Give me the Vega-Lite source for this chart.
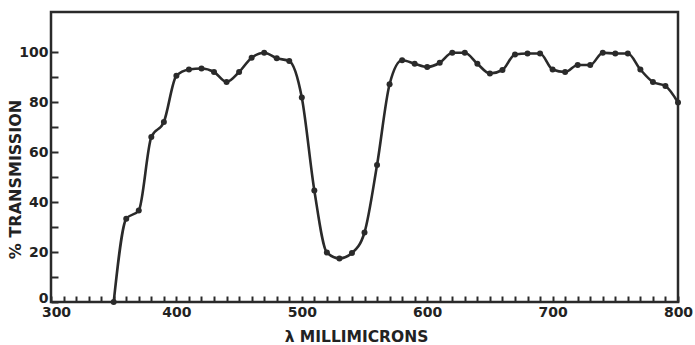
{
  "$schema": "https://vega.github.io/schema/vega-lite/v6.json",
  "width": 627,
  "height": 290,
  "autosize": {"type": "none"},
  "padding": {"left": 51, "top": 12, "right": 17, "bottom": 43},
  "background": "white",
  "config": {
    "view": {"stroke": "#2a2a2a", "strokeWidth": 2.5},
    "axis": {
      "domain": false,
      "grid": false,
      "labelFont": "DejaVu Sans",
      "labelFontWeight": "bold",
      "labelFontSize": 14,
      "labelColor": "#222",
      "tickColor": "#2a2a2a",
      "tickWidth": 2,
      "titleFont": "DejaVu Sans",
      "titleFontWeight": "bold",
      "titleColor": "#222"
    }
  },
  "data": {
    "values": [
      {"wl": 350, "t": 0},
      {"wl": 360, "t": 33.3},
      {"wl": 370, "t": 36.6},
      {"wl": 380, "t": 66},
      {"wl": 390, "t": 72},
      {"wl": 400, "t": 90.5},
      {"wl": 410, "t": 93},
      {"wl": 420, "t": 93.4},
      {"wl": 430, "t": 92},
      {"wl": 440, "t": 88},
      {"wl": 450, "t": 92},
      {"wl": 460, "t": 97.7},
      {"wl": 470, "t": 99.7},
      {"wl": 480, "t": 97.5},
      {"wl": 490, "t": 96.4},
      {"wl": 500, "t": 81.8},
      {"wl": 510, "t": 44.6},
      {"wl": 520, "t": 19.8},
      {"wl": 530, "t": 17.4},
      {"wl": 540, "t": 19.6},
      {"wl": 550, "t": 27.8},
      {"wl": 560, "t": 54.8},
      {"wl": 570, "t": 87.1},
      {"wl": 580, "t": 96.7},
      {"wl": 590, "t": 95.3},
      {"wl": 600, "t": 94},
      {"wl": 610, "t": 95.7},
      {"wl": 620, "t": 99.7},
      {"wl": 630, "t": 99.7},
      {"wl": 640, "t": 95.3},
      {"wl": 650, "t": 91.4},
      {"wl": 660, "t": 92.8},
      {"wl": 670, "t": 99},
      {"wl": 680, "t": 99.4},
      {"wl": 690, "t": 99.4},
      {"wl": 700, "t": 93},
      {"wl": 710, "t": 92},
      {"wl": 720, "t": 94.8},
      {"wl": 730, "t": 94.8},
      {"wl": 740, "t": 99.7},
      {"wl": 750, "t": 99.4},
      {"wl": 760, "t": 99.4},
      {"wl": 770, "t": 93},
      {"wl": 780, "t": 88},
      {"wl": 790, "t": 86.4},
      {"wl": 800, "t": 79.8}
    ]
  },
  "encoding": {
    "x": {
      "field": "wl",
      "type": "quantitative",
      "scale": {"domain": [300, 800], "nice": false, "zero": false},
      "axis": {
        "values": [300,310,320,330,340,350,360,370,380,390,400,410,420,430,440,450,460,470,480,490,500,510,520,530,540,550,560,570,580,590,600,610,620,630,640,650,660,670,680,690,700,710,720,730,740,750,760,770,780,790,800],
        "labelExpr": "datum.value % 100 === 0 ? datum.label : ''",
        "tickSize": -6,
        "labelPadding": 9,
        "labelFlush": false,
        "labelOffset": {"condition": {"test": "datum.value === 300", "value": 5}, "value": 0},
        "title": "λ MILLIMICRONS",
        "titleFontSize": 15.5,
        "titleX": 305,
        "titleY": 39,
        "titleBaseline": "alphabetic"
      }
    },
    "y": {
      "field": "t",
      "type": "quantitative",
      "scale": {"domain": [0, 116], "nice": false},
      "axis": {
        "values": [0,10,20,30,40,50,60,70,80,90,100],
        "labelExpr": "datum.value % 20 === 0 ? datum.label : ''",
        "tickSize": -7,
        "labelPadding": 10,
        "labelFlush": false,
        "labelOffset": {"condition": {"test": "datum.value === 0", "value": -4}, "value": 0},
        "title": "% TRANSMISSION",
        "titleFontSize": 16,
        "titleAngle": -90,
        "titleX": -36,
        "titleY": 167,
        "titleBaseline": "middle",
        "titleAlign": "center"
      }
    }
  },
  "layer": [
    {"mark": {"type": "line", "interpolate": "monotone", "color": "#2a2a2a", "strokeWidth": 2.6}},
    {"mark": {"type": "point", "filled": true, "color": "#2a2a2a", "size": 36, "opacity": 1}}
  ]
}
